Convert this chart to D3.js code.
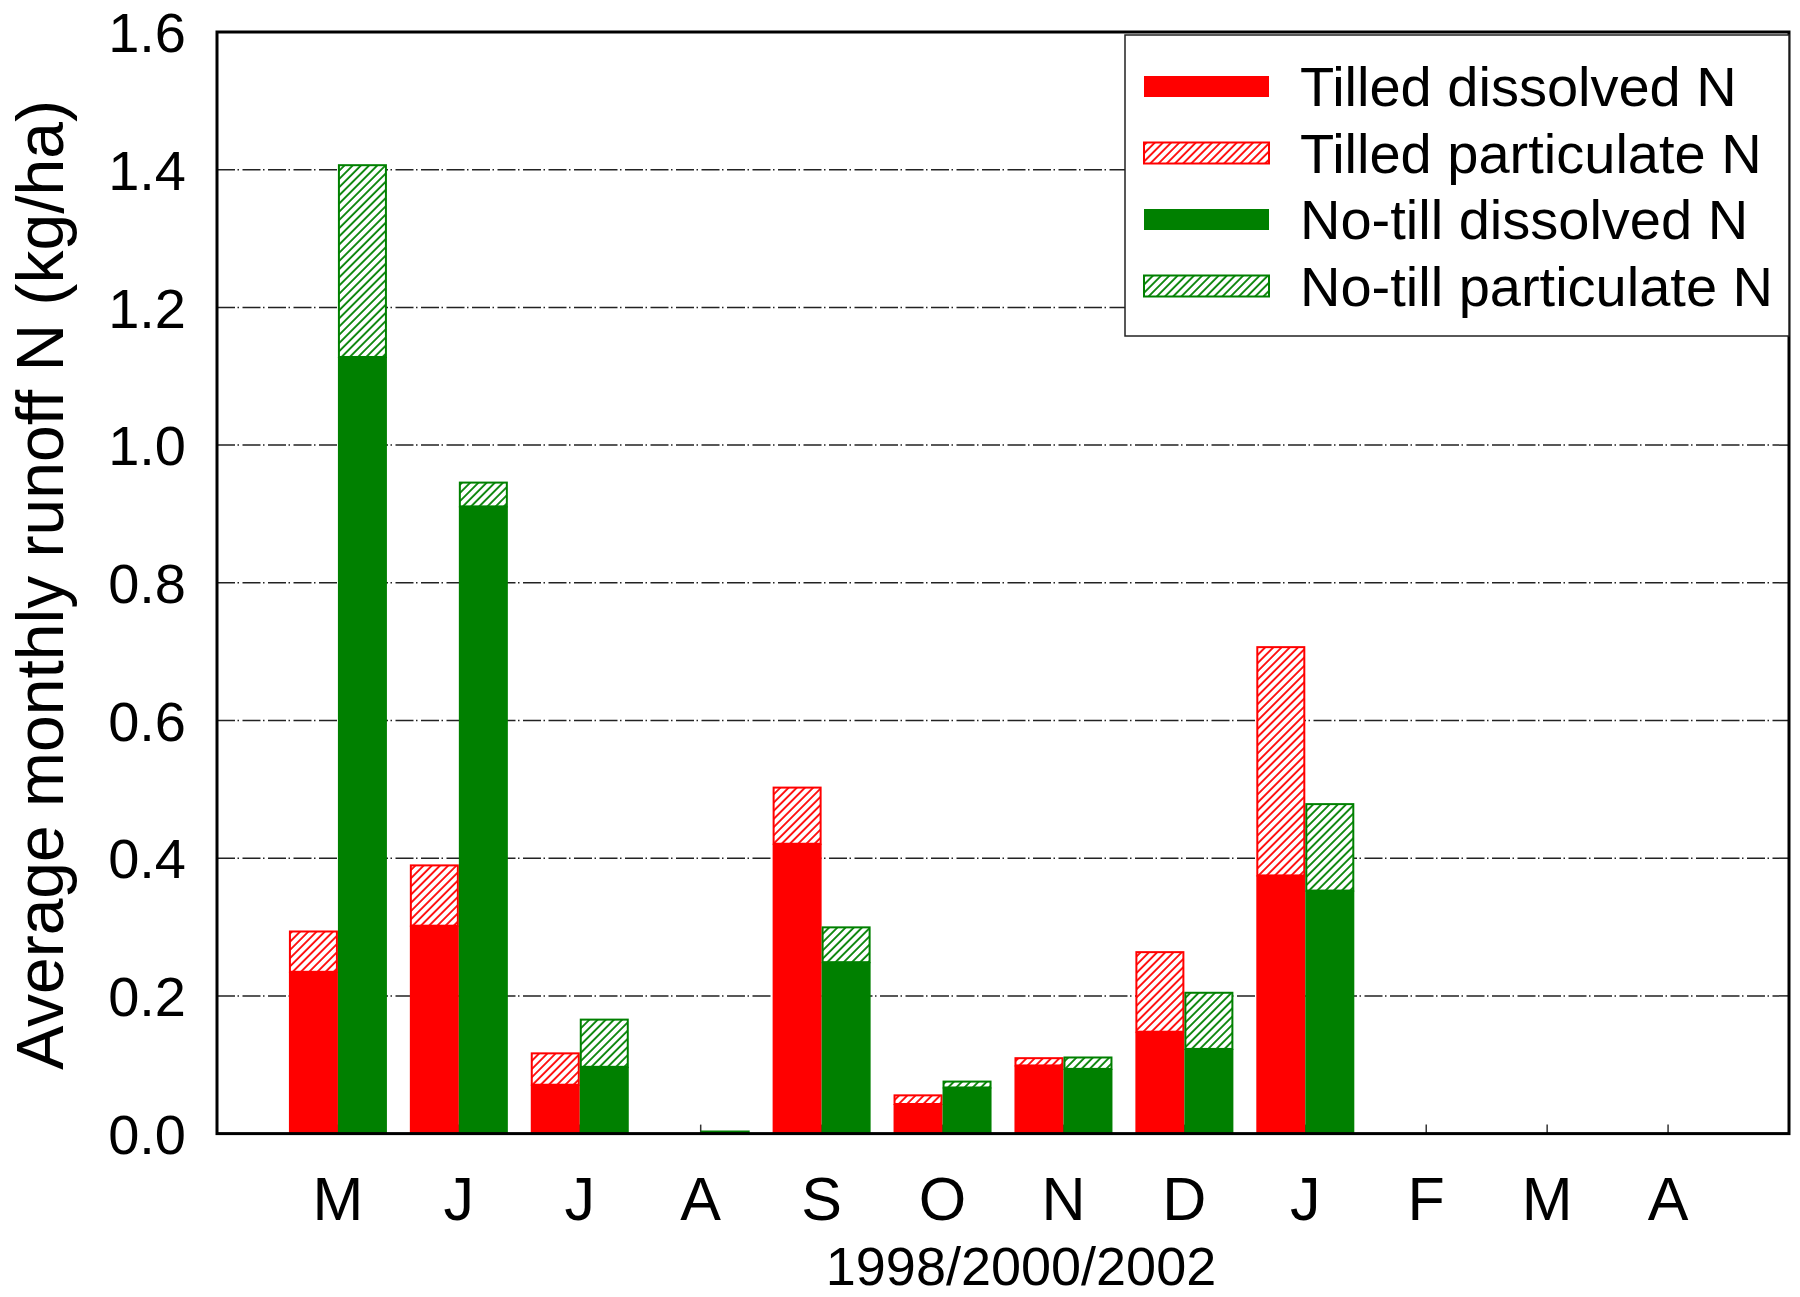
<!DOCTYPE html>
<html>
<head>
<meta charset="utf-8">
<script src="https://cdn.jsdelivr.net/npm/d3@7"></script>
<style>
  html, body { margin: 0; padding: 0; background: #fff; }
  svg { display: block; font-family: "Liberation Sans", Arial, sans-serif; }
</style>
</head>
<body>
<svg id="chart" width="1800" height="1297"></svg>
<script>
// Monthly runoff N, averaged over 1998/2000/2002 (kg/ha)
const months = ["M", "J", "J", "A", "S", "O", "N", "D", "J", "F", "M", "A"];
const tilledDissolved     = [0.235, 0.302, 0.071, 0.000, 0.421, 0.043, 0.099, 0.148, 0.375, 0, 0, 0];
const tilledParticulate   = [0.060, 0.089, 0.047, 0.000, 0.083, 0.014, 0.012, 0.117, 0.333, 0, 0, 0];
const noTillDissolved     = [1.128, 0.911, 0.097, 0.0045, 0.249, 0.067, 0.094, 0.123, 0.353, 0, 0, 0];
const noTillParticulate   = [0.280, 0.036, 0.070, 0.000, 0.052, 0.010, 0.018, 0.083, 0.127, 0, 0, 0];
const yTicks = [0, 0.2, 0.4, 0.6, 0.8, 1.0, 1.2, 1.4, 1.6];
const seriesNames = ["Tilled dissolved N", "Tilled particulate N", "No-till dissolved N", "No-till particulate N"];

const RED = "#ff0000", GREEN = "#008000";

const svg = d3.select("#chart");
const plotL = 217, plotR = 1789, plotT = 32, plotB = 1133.6;

const y = d3.scaleLinear().domain([0, 1.6]).range([plotB, plotT]);
// categories sit on positions 1..12 of a 0..13 axis
const x = d3.scaleLinear().domain([0, months.length + 1]).range([plotL, plotR]);
const barW = 49;

// hatch patterns
const defs = svg.append("defs");
function hatch(id, color) {
  const p = defs.append("pattern")
    .attr("id", id)
    .attr("patternUnits", "userSpaceOnUse")
    .attr("width", 5.8).attr("height", 10)
    .attr("patternTransform", "rotate(45)");
  p.append("rect").attr("width", 5.8).attr("height", 10).attr("fill", "#fff");
  p.append("line").attr("x1", 1).attr("x2", 1).attr("y1", 0).attr("y2", 10)
    .attr("stroke", color).attr("stroke-width", 1.8);
}
hatch("hatchRed", RED);
hatch("hatchGreen", GREEN);

// dashed grid
svg.append("g").selectAll("line")
  .data(yTicks.filter(v => v > 0 && v < 1.6))
  .join("line")
  .attr("x1", plotL).attr("x2", plotR)
  .attr("y1", d => y(d)).attr("y2", d => y(d))
  .attr("stroke", "#222").attr("stroke-width", 1.5)
  .attr("stroke-dasharray", "18,2.5,1.5,3.5");

// inward ticks on the category axis
svg.append("g").selectAll("line")
  .data(months)
  .join("line")
  .attr("x1", (d, i) => x(i + 1)).attr("x2", (d, i) => x(i + 1))
  .attr("y1", plotB).attr("y2", plotB - 9)
  .attr("stroke", "#333").attr("stroke-width", 1.5);

// stacked bars: dissolved (solid) below particulate (hatched)
const groups = [
  { dis: tilledDissolved, par: tilledParticulate, color: RED, pat: "hatchRed", off: -barW },
  { dis: noTillDissolved, par: noTillParticulate, color: GREEN, pat: "hatchGreen", off: 0 }
];
const barsG = svg.append("g");
groups.forEach(g => {
  months.forEach((m, i) => {
    const x0 = x(i + 1) + g.off;
    const d = g.dis[i], p = g.par[i];
    if (d > 0) {
      barsG.append("rect")
        .attr("x", x0).attr("width", barW)
        .attr("y", y(d)).attr("height", y(0) - y(d))
        .attr("fill", g.color);
    }
    if (p > 0) {
      const yt = y(d + p), yb = y(d);
      barsG.append("rect")
        .attr("x", x0 + 1).attr("width", barW - 2)
        .attr("y", yt + 1).attr("height", Math.max(0, yb - yt - 1))
        .attr("fill", `url(#${g.pat})`)
        .attr("stroke", g.color).attr("stroke-width", 2);
    }
  });
});

// frame
svg.append("rect")
  .attr("x", plotL).attr("y", plotT)
  .attr("width", plotR - plotL).attr("height", plotB - plotT)
  .attr("fill", "none").attr("stroke", "#000").attr("stroke-width", 3);

// y tick labels
svg.append("g").selectAll("text")
  .data(yTicks)
  .join("text")
  .attr("x", 186).attr("y", d => y(d))
  .attr("dy", "0.36em")
  .attr("text-anchor", "end")
  .attr("font-size", 56)
  .text(d => d3.format(".1f")(d));

// month labels
svg.append("g").selectAll("text")
  .data(months)
  .join("text")
  .attr("x", (d, i) => x(i + 1)).attr("y", 1220)
  .attr("text-anchor", "middle")
  .attr("font-size", 61)
  .text(d => d);

// axis titles
svg.append("text")
  .attr("x", 1021).attr("y", 1285)
  .attr("text-anchor", "middle")
  .attr("font-size", 54)
  .text("1998/2000/2002");

svg.append("text")
  .attr("transform", "translate(63,585) rotate(-90)")
  .attr("text-anchor", "middle")
  .attr("font-size", 66)
  .text("Average monthly runoff N (kg/ha)");

// legend
const lg = svg.append("g");
lg.append("rect")
  .attr("x", 1125).attr("y", 35).attr("width", plotR - 1125).attr("height", 301)
  .attr("fill", "#fff").attr("stroke", "#222").attr("stroke-width", 1.5);
const rowY = [86.5, 153, 219.5, 286];
const swatches = [
  { fill: RED, stroke: null },
  { fill: "url(#hatchRed)", stroke: RED },
  { fill: GREEN, stroke: null },
  { fill: "url(#hatchGreen)", stroke: GREEN }
];
seriesNames.forEach((name, i) => {
  const s = swatches[i];
  const r = lg.append("rect")
    .attr("x", 1144).attr("y", rowY[i] - 10.5)
    .attr("width", 125).attr("height", 21)
    .attr("fill", s.fill);
  if (s.stroke) r.attr("stroke", s.stroke).attr("stroke-width", 2);
  lg.append("text")
    .attr("x", 1300).attr("y", rowY[i] + 19.5)
    .attr("font-size", 56)
    .text(name);
});
</script>
</body>
</html>
